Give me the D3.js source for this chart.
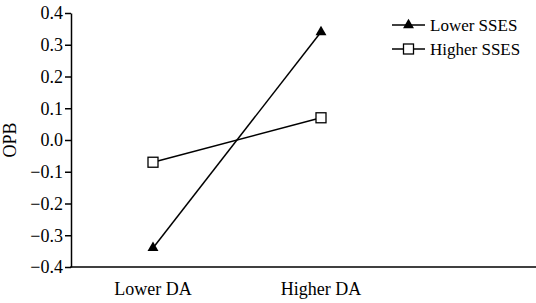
<!DOCTYPE html>
<html>
<head>
<meta charset="utf-8">
<script src="https://cdn.jsdelivr.net/npm/d3@7"></script>
<style>
  html, body { margin: 0; padding: 0; background: #fff; }
  svg { display: block; font-family: "Liberation Serif", "Times New Roman", serif; }
</style>
</head>
<body>
<svg id="chart" width="536" height="303"></svg>
<script>
// data
const categories = ["Lower DA", "Higher DA"];
const seriesNames = ["Lower SSES", "Higher SSES"];
const lowerSSES = [-0.34, 0.34];
const higherSSES = [-0.07, 0.07];
const yTicks = [0.4, 0.3, 0.2, 0.1, 0.0, -0.1, -0.2, -0.3, -0.4];

const FS = 18;
const svg = d3.select("#chart");
const m = { l: 71, t: 13, b: 36 };
const W = 536, H = 303;

// category points sit well left of centre, leaving room for the legend
const x = d3.scalePoint().domain(categories).range([153, 321]);
const y = d3.scaleLinear().domain([-0.4, 0.4]).range([H - m.b, m.t]);

// y axis
const gy = svg.append("g").attr("transform", `translate(${m.l},0)`)
  .call(d3.axisLeft(y).tickValues(yTicks).tickFormat(d3.format(".1f")).tickSize(6).tickSizeOuter(0));
gy.select(".domain").attr("stroke", "#000").attr("stroke-width", 1.5);
gy.selectAll(".tick line").attr("stroke", "#000").attr("stroke-width", 1.5);
gy.selectAll(".tick text").attr("font-size", FS).attr("font-family", "Liberation Serif")
  .attr("fill", "#000").attr("x", -8);

// x axis line (no ticks)
svg.append("line").attr("x1", m.l - 0.75).attr("x2", W).attr("y1", y(-0.4)).attr("y2", y(-0.4))
  .attr("stroke", "#000").attr("stroke-width", 1.5);
svg.selectAll("text.xcat").data(categories).join("text").attr("class", "xcat")
  .attr("x", d => x(d)).attr("y", 295).attr("text-anchor", "middle")
  .attr("font-size", FS).text(d => d);

// y title
svg.append("text").attr("transform", `translate(16,${y(0)}) rotate(-90)`)
  .attr("text-anchor", "middle").attr("font-size", FS).text("OPB");

const line = d3.line().x((d, i) => x(categories[i])).y(d => y(d));
const tri = d3.symbol().type(d3.symbolTriangle).size(52);

// Lower SSES
svg.append("path").datum(lowerSSES).attr("d", line).attr("fill", "none").attr("stroke", "#000").attr("stroke-width", 1.5);
svg.selectAll("path.tri").data(lowerSSES).join("path").attr("class", "tri")
  .attr("transform", (d, i) => `translate(${x(categories[i])},${y(d)})`)
  .attr("d", tri).attr("fill", "#000");

// Higher SSES
svg.append("path").datum(higherSSES).attr("d", line).attr("fill", "none").attr("stroke", "#000").attr("stroke-width", 1.5);
svg.selectAll("rect.sq").data(higherSSES).join("rect").attr("class", "sq")
  .attr("x", (d, i) => x(categories[i]) - 5).attr("y", d => y(d) - 5)
  .attr("width", 10).attr("height", 10).attr("fill", "#fff").attr("stroke", "#000").attr("stroke-width", 1.3);

// legend
const lg = svg.append("g").attr("transform", "translate(392,25)");
seriesNames.forEach((name, i) => {
  const g = lg.append("g").attr("transform", `translate(0,${i * 24})`);
  g.append("line").attr("x1", 0).attr("x2", 33).attr("stroke", "#000").attr("stroke-width", 1.5);
  if (i === 0) g.append("path").attr("transform", "translate(16.5,0)").attr("d", tri).attr("fill", "#000");
  else g.append("rect").attr("x", 11.5).attr("y", -5).attr("width", 10).attr("height", 10)
    .attr("fill", "#fff").attr("stroke", "#000").attr("stroke-width", 1.3);
  g.append("text").attr("x", 38).attr("y", 6).attr("font-size", 17).text(name);
});
</script>
</body>
</html>
